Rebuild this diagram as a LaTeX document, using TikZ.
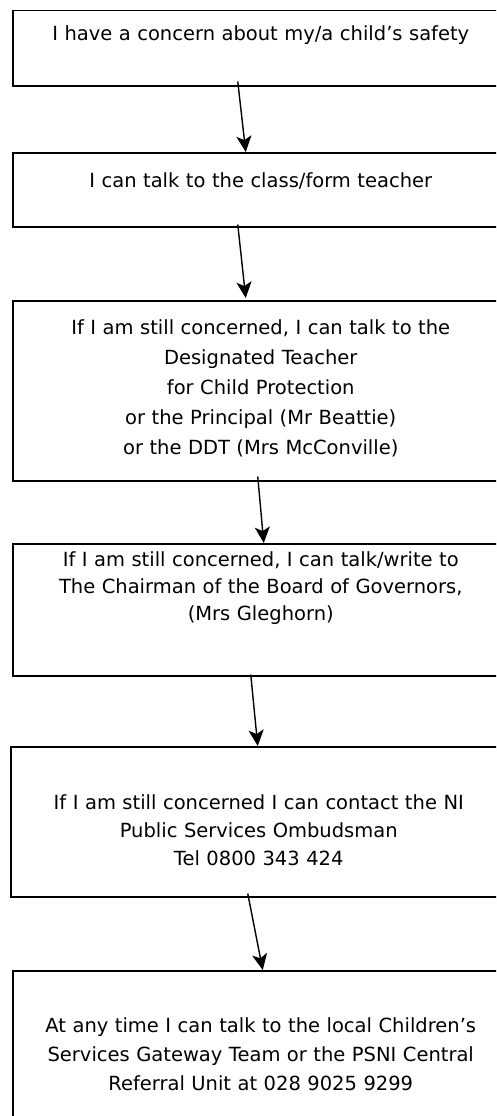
\documentclass[tikz,border=0pt]{standalone}
\usepackage{fontspec}
\setmainfont{DejaVu Sans}
\usetikzlibrary{arrows.meta}

\begin{document}
\begin{tikzpicture}[x=1pt, y=1pt,
    stepbox/.style={draw, line width=1.5pt, rectangle, anchor=north west,
      inner sep=0pt, text width=496pt, align=center,
      font=\fontsize{19.5}{28}\selectfont},
    arr/.style={-{Stealth[length=16pt, width=15pt, inset=4pt]}, line width=1.4pt}]
  \path[use as bounding box, clip] (0,0) rectangle (496,-1116);
  \node[stepbox, text height=30pt, text depth=45pt] (b1) at (12,-10)
    {I have a concern about my/a child’s safety};
  \node[stepbox, text height=35pt, text depth=39pt] (b2) at (12,-152)
    {I can talk to the class/form teacher};
  \node[stepbox, text height=34pt, text depth=146pt,
        font=\fontsize{19.5}{30}\selectfont] (b3) at (12,-300)
    {If I am still concerned, I can talk to the\\ Designated Teacher\\ for Child Protection\\
     or the Principal (Mr Beattie)\\ or the DDT (Mrs McConville)};
  \node[stepbox, text height=23pt, text depth=109pt, font=\fontsize{19.5}{27}\selectfont] (b4) at (12,-543)
    {If I am still concerned, I can talk/write to\\ The Chairman of the Board of Governors,\\ (Mrs Gleghorn)};
  \node[stepbox, text height=63pt, text depth=87pt] (b5) at (10,-746)
    {If I am still concerned I can contact the NI\\ Public Services Ombudsman\\ Tel 0800 343 424};
  \node[stepbox, text height=62pt, text depth=108pt,
        font=\fontsize{19.5}{29}\selectfont] (b6) at (12,-970)
    {At any time I can talk to the local Children’s\\ Services Gateway Team or the PSNI Central\\ Referral Unit at 028 9025 9299};
  \draw[arr] ([xshift=-23pt,yshift=5pt]b1.south) -- ([xshift=-15pt]b2.north);
  \draw[arr] ([xshift=-23pt,yshift=3pt]b2.south) -- ([xshift=-15pt,yshift=2pt]b3.north);
  \draw[arr] ([xshift=-3pt,yshift=5pt]b3.south) -- ([xshift=3pt]b4.north);
  \draw[arr] ([xshift=-10pt,yshift=2pt]b4.south) -- ([xshift=-1pt]b5.north);
  \draw[arr] ([xshift=-11pt,yshift=4pt]b5.south) -- ([xshift=2pt]b6.north);
\end{tikzpicture}
\end{document}
